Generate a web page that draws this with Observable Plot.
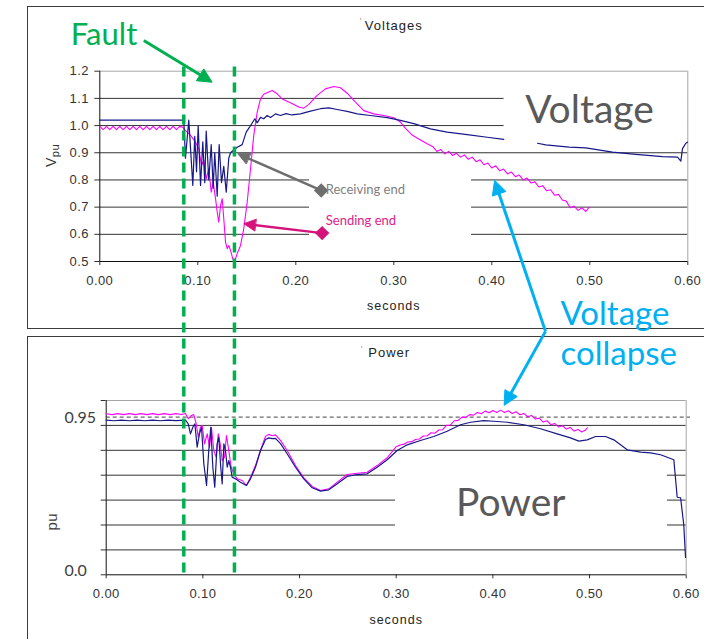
<!DOCTYPE html>
<html><head><meta charset="utf-8">
<script src="https://cdn.jsdelivr.net/npm/d3@7"></script>
<script src="https://cdn.jsdelivr.net/npm/@observablehq/plot@0.6"></script>
<style>
html,body{margin:0;padding:0;background:#fff;}
#stage{position:relative;width:704px;height:639px;overflow:hidden;background:#fff;}
.panel{position:absolute;box-sizing:border-box;border:1.5px solid #3c3c3c;}
.chart{position:absolute;left:0;}
</style></head><body>
<div id="stage">
 <div class="panel" style="left:26.5px;top:6px;width:720px;height:323px"></div>
 <div class="panel" style="left:26.5px;top:336px;width:720px;height:400px"></div>
 <div class="chart" id="power" style="top:330px;z-index:1"></div>
 <div class="chart" id="volt" style="top:0px;z-index:2"></div>
</div>
<script>
// ---------- data (time in seconds) ----------
const timeTicks = [0, 0.1, 0.2, 0.3, 0.4, 0.5, 0.6];
const voltTicks = [0.5, 0.6, 0.7, 0.8, 0.9, 1.0, 1.1, 1.2];
const powerGrid = [0, 0.15, 0.3, 0.45, 0.6, 0.75, 0.9, 1.05];
const powerLabels = ["0.95", "0.0"];
const faultTimes = [0.0857, 0.1374];

// Receiving end voltage (pu)
const voltRecv = [[0,1.02],[0.0845,1.02],[0.0851,1.026],[0.0857,1.02],[0.0874,0.88],[0.0908,1.02],[0.0949,0.78],[0.0969,0.96],[0.0987,0.83],[0.1004,1.0],[0.1028,0.78],[0.1051,0.94],[0.1071,0.79],[0.1086,0.98],[0.1112,0.80],[0.1137,0.93],[0.1157,0.77],[0.1173,0.90],[0.1198,0.74],[0.1218,0.93],[0.1242,0.79],[0.1265,0.85],[0.129,0.755],[0.1316,0.88],[0.1334,0.90],[0.1367,0.91],[0.1402,0.92],[0.1453,0.93],[0.1494,0.976],[0.1528,0.994],[0.1582,1.025],[0.1606,1.01],[0.164,1.03],[0.1673,1.025],[0.1708,1.037],[0.1742,1.03],[0.1793,1.043],[0.1844,1.037],[0.19,1.044],[0.196,1.039],[0.2048,1.043],[0.215,1.053],[0.2252,1.062],[0.2337,1.065],[0.2422,1.059],[0.2524,1.052],[0.2627,1.043],[0.2762,1.037],[0.2933,1.029],[0.3068,1.019],[0.3204,1.007],[0.3374,0.988],[0.3545,0.976],[0.3749,0.967],[0.3953,0.957],[0.4122,0.949],[0.43,NaN],[0.4466,0.935],[0.4551,0.929],[0.479,0.921],[0.4959,0.918],[0.5232,0.902],[0.5469,0.894],[0.5742,0.886],[0.5895,0.884],[0.5929,0.869],[0.5946,0.915],[0.598,0.935],[0.5997,0.939]];

// Sending end voltage (pu)
const voltSend = [[0,0.997],[0.0034,0.985],[0.0068,0.997],[0.0102,0.985],[0.0136,0.997],[0.017,0.985],[0.0204,0.997],[0.0238,0.985],[0.0272,0.997],[0.0306,0.985],[0.034,0.997],[0.0374,0.985],[0.0408,0.997],[0.0442,0.985],[0.0476,0.997],[0.051,0.985],[0.0544,0.997],[0.0578,0.985],[0.0612,0.997],[0.0646,0.985],[0.068,0.997],[0.0714,0.985],[0.0748,0.997],[0.0782,0.985],[0.0816,0.997],[0.0841,0.995],[0.0874,0.982],[0.0926,0.964],[0.0977,0.939],[0.101,0.915],[0.1038,0.853],[0.1061,0.872],[0.1086,0.804],[0.1112,0.841],[0.1137,0.755],[0.1157,0.792],[0.1181,0.731],[0.1198,0.682],[0.1214,0.645],[0.1232,0.706],[0.1249,0.731],[0.1265,0.657],[0.1283,0.571],[0.13,0.547],[0.1316,0.559],[0.1334,0.541],[0.1357,0.51],[0.1374,0.498],[0.1402,0.529],[0.1436,0.559],[0.1469,0.621],[0.1504,0.718],[0.1538,0.841],[0.1571,0.964],[0.1606,1.049],[0.164,1.098],[0.1673,1.115],[0.1759,1.129],[0.181,1.117],[0.1861,1.098],[0.1946,1.084],[0.2031,1.068],[0.2082,1.064],[0.2133,1.078],[0.2218,1.111],[0.2303,1.135],[0.2388,1.144],[0.2456,1.139],[0.2524,1.119],[0.2609,1.086],[0.2694,1.055],[0.2796,1.043],[0.2898,1.037],[0.3,1.029],[0.3068,1.013],[0.3119,0.99],[0.3188,0.965],[0.3259,0.95],[0.3341,0.933],[0.340,0.922],[0.344,0.905],[0.348,0.912],[0.352,0.896],[0.356,0.905],[0.360,0.890],[0.364,0.898],[0.368,0.884],[0.372,0.892],[0.376,0.876],[0.380,0.884],[0.384,0.867],[0.388,0.874],[0.392,0.856],[0.396,0.862],[0.400,0.844],[0.404,0.852],[0.408,0.834],[0.412,0.840],[0.416,0.822],[0.420,0.829],[0.424,0.812],[0.428,0.818],[0.432,0.800],[0.436,0.807],[0.440,0.789],[0.444,0.793],[0.448,0.774],[0.452,0.779],[0.456,0.760],[0.460,0.764],[0.464,0.744],[0.468,0.747],[0.472,0.726],[0.476,0.722],[0.480,0.698],[0.484,0.704],[0.488,0.688],[0.492,0.697],[0.496,0.684],[0.4994,0.700]];

// Receiving end power (pu)
const powerRecv = [[0,0.932],[0.008,0.928],[0.016,0.932],[0.024,0.928],[0.032,0.932],[0.040,0.928],[0.048,0.932],[0.056,0.928],[0.064,0.932],[0.072,0.929],[0.082,0.932],[0.0848,0.91],[0.0872,0.849],[0.0896,0.889],[0.0917,0.909],[0.0941,0.769],[0.0965,0.849],[0.0986,0.889],[0.101,0.669],[0.1038,0.538],[0.1061,0.749],[0.1082,0.889],[0.1103,0.648],[0.1123,0.528],[0.1148,0.789],[0.1165,0.829],[0.1185,0.648],[0.12,0.548],[0.1217,0.789],[0.1234,0.749],[0.1252,0.648],[0.1268,0.688],[0.1286,0.648],[0.1303,0.588],[0.1338,0.578],[0.1389,0.558],[0.1451,0.538],[0.1493,0.578],[0.1544,0.648],[0.1596,0.749],[0.1648,0.815],[0.1682,0.825],[0.1717,0.82],[0.1751,0.822],[0.1803,0.79],[0.1872,0.729],[0.1958,0.648],[0.2044,0.578],[0.2131,0.524],[0.2217,0.504],[0.2303,0.512],[0.239,0.548],[0.2493,0.592],[0.2596,0.604],[0.27,0.608],[0.2803,0.648],[0.2907,0.693],[0.301,0.749],[0.3114,0.783],[0.3251,0.809],[0.3389,0.833],[0.3527,0.865],[0.3665,0.904],[0.3769,0.919],[0.3906,0.929],[0.401,0.925],[0.4148,0.919],[0.432,0.904],[0.4493,0.88],[0.4665,0.849],[0.4803,0.825],[0.4889,0.805],[0.4976,0.813],[0.5062,0.833],[0.5165,0.833],[0.5251,0.813],[0.539,0.753],[0.553,0.739],[0.5631,0.735],[0.5735,0.723],[0.5872,0.693],[0.5907,0.467],[0.5942,0.464],[0.5975,0.30],[0.5993,0.105]];

// Sending end power (pu)
const powerSend = [[0,0.970],[0.006,0.965],[0.012,0.971],[0.018,0.965],[0.024,0.971],[0.030,0.965],[0.036,0.971],[0.042,0.965],[0.048,0.971],[0.054,0.965],[0.060,0.971],[0.066,0.965],[0.072,0.971],[0.078,0.966],[0.082,0.972],[0.0848,0.94],[0.0882,0.96],[0.0906,0.965],[0.0931,0.91],[0.0952,0.829],[0.0975,0.889],[0.0993,0.899],[0.1017,0.789],[0.1045,0.849],[0.1069,0.769],[0.1089,0.889],[0.1113,0.749],[0.1138,0.709],[0.1159,0.849],[0.1179,0.789],[0.12,0.688],[0.1224,0.709],[0.1244,0.839],[0.1268,0.749],[0.1293,0.648],[0.132,0.608],[0.1355,0.578],[0.1407,0.568],[0.1451,0.538],[0.1493,0.588],[0.1544,0.658],[0.1596,0.749],[0.1648,0.835],[0.1682,0.846],[0.1717,0.838],[0.1751,0.843],[0.1803,0.81],[0.1872,0.749],[0.1958,0.658],[0.2044,0.584],[0.2131,0.532],[0.2217,0.508],[0.2303,0.518],[0.239,0.558],[0.2493,0.604],[0.2596,0.612],[0.27,0.618],[0.2803,0.658],[0.2907,0.705],[0.300,0.772],[0.304,0.782],[0.308,0.787],[0.312,0.800],[0.316,0.802],[0.320,0.815],[0.324,0.818],[0.328,0.836],[0.332,0.838],[0.336,0.856],[0.340,0.853],[0.344,0.872],[0.348,0.874],[0.352,0.900],[0.356,0.902],[0.360,0.928],[0.364,0.930],[0.368,0.950],[0.372,0.948],[0.376,0.965],[0.380,0.962],[0.384,0.978],[0.388,0.970],[0.392,0.986],[0.396,0.976],[0.400,0.990],[0.404,0.978],[0.408,0.992],[0.412,0.978],[0.416,0.988],[0.420,0.972],[0.424,0.982],[0.428,0.964],[0.432,0.972],[0.436,0.952],[0.440,0.960],[0.444,0.938],[0.448,0.944],[0.452,0.920],[0.456,0.928],[0.460,0.904],[0.464,0.912],[0.468,0.890],[0.472,0.898],[0.476,0.878],[0.480,0.888],[0.484,0.866],[0.488,0.876],[0.492,0.860],[0.496,0.872],[0.4976,0.886]];

// ---------- styling ----------
const ARIAL = "'Liberation Sans', Arial, sans-serif";
const LATO = "Lato, 'Open Sans', sans-serif";
const NAVY = "#18188a", MAGENTA = "#ff00ff", GREEN = "#00b050", CYAN = "#00b0f0";
const one = [0];
const tx = d => d;

const baseStyle = {background: "transparent", overflow: "visible", fontFamily: ARIAL, fontSize: "13px", color: "#333"};

const voltPlot = Plot.plot({
  width: 704, height: 330,
  marginLeft: 99.3, marginRight: 16.7, marginTop: 70.7, marginBottom: 69,
  style: baseStyle,
  x: {domain: [0, 0.6], ticks: timeTicks, tickFormat: d3.format(".2f"), tickSize: 4, tickPadding: 10, label: null},
  y: {domain: [0.5, 1.2], ticks: voltTicks, tickFormat: d3.format(".1f"), tickSize: 5, tickPadding: 6, label: null},
  marks: [
    Plot.ruleY(voltTicks.slice(1, -1), {stroke: "#333"}),
    Plot.rect(one, {x1: 0.214, x2: 0.3793, y1: 0.559, y2: 0.842, fill: "white"}),
    Plot.rect(one, {x1: 0.4125, x2: 0.6, y1: 0.941, y2: 1.147, fill: "white"}),
    Plot.ruleY([1.2], {stroke: "#a6a6a6"}),
    Plot.ruleX([0.6], {stroke: "#a6a6a6"}),
    Plot.ruleX([0], {stroke: "#111"}),
    Plot.ruleY([0.5], {stroke: "#111"}),
    Plot.line(voltSend, {x: d => d[0], y: d => d[1], stroke: MAGENTA, strokeWidth: 1.1}),
    Plot.line(voltRecv, {x: d => d[0], y: d => d[1], stroke: NAVY, strokeWidth: 1.2}),
    // slide annotations
    Plot.ruleX(faultTimes, {y1: 1.215, y2: -0.665, stroke: GREEN, strokeWidth: 3.5, strokeDasharray: "10,6"}),
    Plot.text(["Fault"], {x: 0.0043, y: 1.297, text: tx, lineAnchor: "bottom", fontFamily: LATO, fontSize: 31, fill: GREEN}),
    Plot.link(one, {x1: 0.0449, y1: 1.3129, x2: 0.1111, y2: 1.1673, stroke: GREEN, strokeWidth: 3, markerEnd: "arrow"}),
    Plot.link(one, {x1: 0.2259, y1: 0.7614, x2: 0.1439, y2: 0.8915, stroke: "#6e6e6e", strokeWidth: 2.5, markerEnd: "arrow"}),
    Plot.dot(one, {x: 0.2259, y: 0.7614, symbol: "diamond2", r: 6.5, fill: "#6e6e6e"}),
    Plot.text(["Receiving end"], {x: 0.2306, y: 0.7493, text: tx, textAnchor: "start", lineAnchor: "bottom", fontFamily: LATO, fontSize: 13, fill: "#808080"}),
    Plot.link(one, {x1: 0.2269, y1: 0.6044, x2: 0.1503, y2: 0.6375, stroke: "#d4147a", strokeWidth: 2.5, markerEnd: "arrow"}),
    Plot.dot(one, {x: 0.2269, y: 0.6044, symbol: "diamond2", r: 6.5, fill: "#d4147a"}),
    Plot.text(["Sending end"], {x: 0.2306, y: 0.6338, text: tx, textAnchor: "start", lineAnchor: "bottom", fontFamily: LATO, fontSize: 13, fill: "#e0208a"}),
    Plot.text(["Voltage"], {x: 0.4997, y: 1.0088, text: tx, lineAnchor: "bottom", fontFamily: LATO, fontSize: 39, fill: "#595959"}),
    Plot.text(["Voltage"], {x: 0.4701, y: 0.265, text: tx, textAnchor: "start", lineAnchor: "bottom", fontFamily: LATO, fontSize: 33, fill: CYAN}),
    Plot.text(["collapse"], {x: 0.4701, y: 0.118, text: tx, textAnchor: "start", lineAnchor: "bottom", fontFamily: LATO, fontSize: 33, fill: CYAN}),
    Plot.link(one, {x1: 0.4548, y1: 0.243, x2: 0.4041, y2: 0.7842, stroke: CYAN, strokeWidth: 3, markerEnd: "arrow"}),
    Plot.link(one, {x1: 0.4548, y1: 0.243, x2: 0.4146, y2: -0.0162, stroke: CYAN, strokeWidth: 3, markerEnd: "arrow"}),
    // chart texts
    Plot.text(["Voltages"], {frameAnchor: "top", dy: -41.4, text: tx, lineAnchor: "bottom", fontSize: 13, fill: "#222"}),
    Plot.text(["'"], {frameAnchor: "top", dx: -33, dy: -47, text: tx, lineAnchor: "bottom", fontSize: 9, fill: "#999"}),
    Plot.text(["seconds"], {frameAnchor: "bottom", dy: 48.3, text: tx, lineAnchor: "bottom", fontSize: 12.5, fill: "#222"}),
    Plot.text(["Vpu"], {frameAnchor: "left", y: 0.848, dx: -43.8, rotate: -90, text: tx, lineAnchor: "bottom", fontSize: 14, fill: "#333"})
  ]
});

const powerPlot = Plot.plot({
  width: 704, height: 309,
  marginLeft: 105.7, marginRight: 18.3, marginTop: 70, marginBottom: 64.7,
  style: baseStyle,
  x: {domain: [0, 0.6], ticks: timeTicks, tickFormat: d3.format(".2f"), tickSize: 4, tickPadding: 10, label: null},
  y: {domain: [0, 1.05], ticks: powerGrid, tickFormat: () => "", tickSize: 5, label: null},
  marks: [
    Plot.ruleY(powerGrid.slice(1, -1), {stroke: "#333"}),
    Plot.rect(one, {x1: 0.2993, x2: 0.5806, y1: 0.237, y2: 0.677, fill: "white"}),
    Plot.ruleY([1.05], {stroke: "#a6a6a6"}),
    Plot.ruleX([0.6], {stroke: "#a6a6a6"}),
    Plot.ruleX([0], {stroke: "#111"}),
    Plot.ruleY([0], {stroke: "#111"}),
    Plot.ruleY([0.95], {x1: 0, x2: 0.6044, stroke: "#444", strokeDasharray: "4,3"}),
    Plot.line(powerSend, {x: d => d[0], y: d => d[1], stroke: MAGENTA, strokeWidth: 1.1}),
    Plot.line(powerRecv, {x: d => d[0], y: d => d[1], stroke: NAVY, strokeWidth: 1.2}),
    Plot.text([powerLabels[0]], {frameAnchor: "left", y: 0.95, dy: 1, dx: -41.7, text: tx, textAnchor: "start", fontFamily: LATO, fontSize: 16, fill: "#404040"}),
    Plot.text([powerLabels[1]], {frameAnchor: "left", y: 0, dy: -3.6, dx: -41.7, text: tx, textAnchor: "start", fontFamily: LATO, fontSize: 16, fill: "#404040"}),
    Plot.text(["pu"], {frameAnchor: "left", y: 0.267, dx: -48.7, rotate: -90, text: tx, lineAnchor: "bottom", fontSize: 15, fill: "#404040"}),
    Plot.text(["Power"], {frameAnchor: "top", dx: -7, dy: -43.3, text: tx, lineAnchor: "bottom", fontSize: 13, fill: "#222"}),
    Plot.text(["'"], {frameAnchor: "top", dx: -34.4, dy: -49, text: tx, lineAnchor: "bottom", fontSize: 9, fill: "#999"}),
    Plot.text(["seconds"], {frameAnchor: "bottom", dy: 49, text: tx, lineAnchor: "bottom", fontSize: 12.5, fill: "#222"}),
    Plot.text(["Power"], {x: 0.4185, y: 0.357, text: tx, lineAnchor: "bottom", fontFamily: LATO, fontSize: 39, fill: "#595959"})
  ]
});

function finish(svg) {
  const s = d3.select(svg);
  s.style("letter-spacing", "0.4px");
  s.selectAll("text").each(function () {
    const holder = this.closest("[font-family]");
    const fam = holder ? holder.getAttribute("font-family") : "";
    if (fam && fam.indexOf("Lato") >= 0) { this.setAttribute("letter-spacing", "0"); return; }
    const t = this.textContent;
    if (t === "Voltages" || t === "Power" || t === "seconds") this.setAttribute("letter-spacing", "1px");
    if (t === "Vpu") {
      const sel = d3.select(this);
      sel.text(null);
      sel.append("tspan").text("V");
      sel.append("tspan").attr("font-size", "80%").attr("dy", "0.25em").text("pu");
    }
  });
  // filled triangular arrow heads
  s.selectAll("marker").each(function () {
    const m = d3.select(this);
    const c = m.attr("stroke");
    m.attr("viewBox", "-6 -5 10 10").attr("fill", c).attr("stroke", c)
     .attr("stroke-width", 0.5).attr("stroke-linejoin", "miter").style("overflow", "visible");
    m.select("path").attr("d", "M-5,-3.5L2,0L-5,3.5Z");
  });
  return svg;
}

document.getElementById("volt").appendChild(finish(voltPlot));
document.getElementById("power").appendChild(finish(powerPlot));
</script>
</body></html>
